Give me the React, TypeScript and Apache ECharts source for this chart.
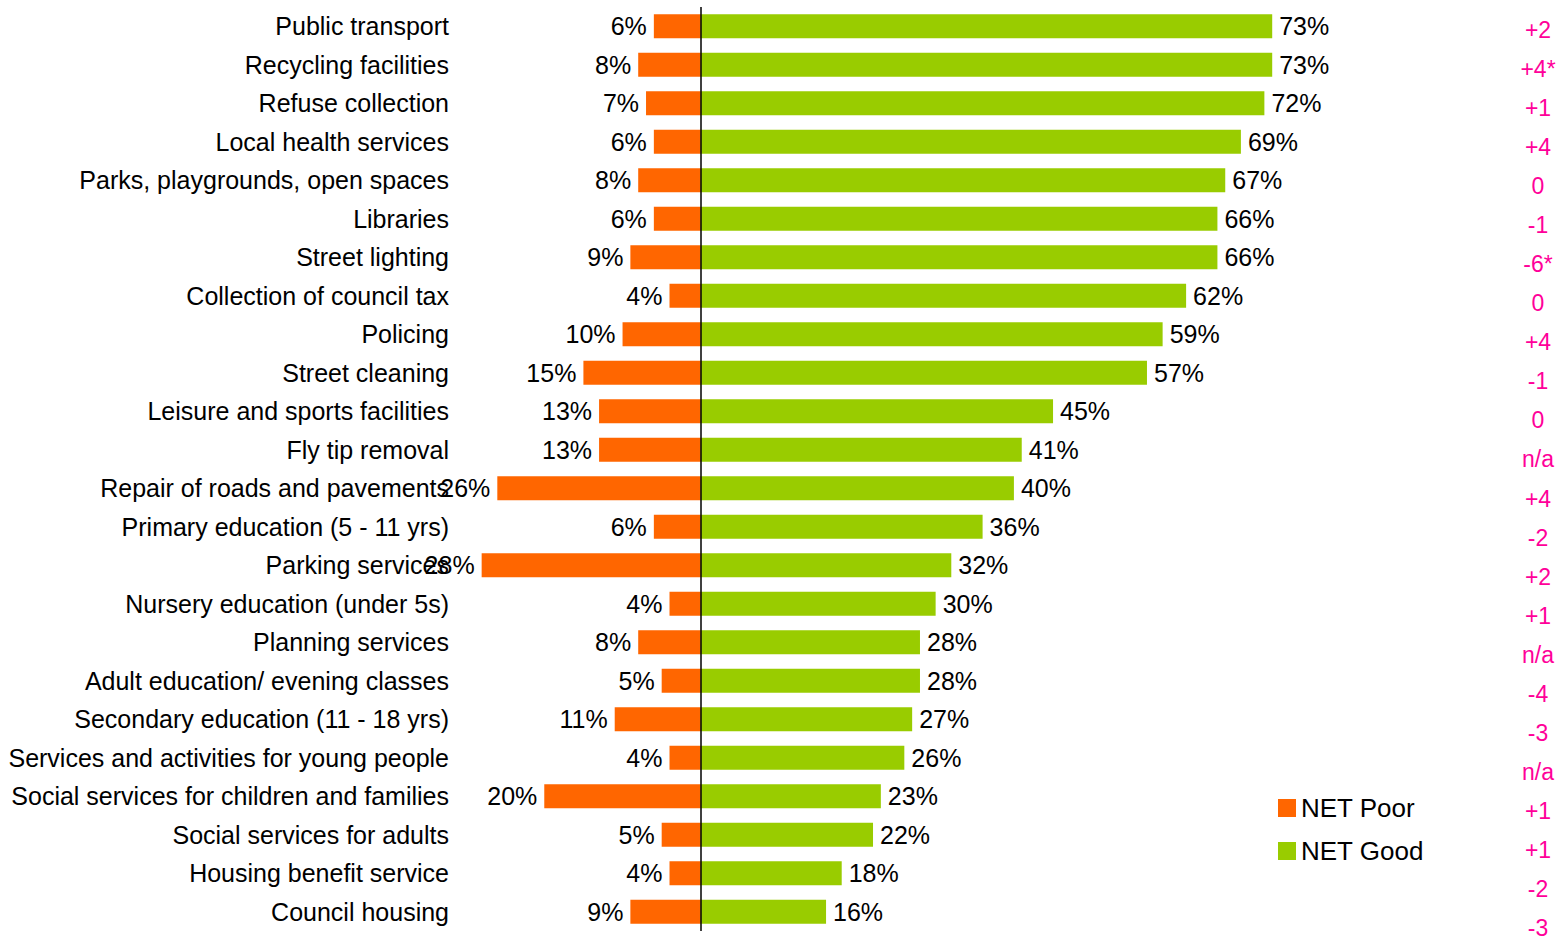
import React, { useEffect, useRef } from "react";
import * as echarts from "echarts";

const categories = [
  "Public transport",
  "Recycling facilities",
  "Refuse collection",
  "Local health services",
  "Parks, playgrounds, open spaces",
  "Libraries",
  "Street lighting",
  "Collection of council tax",
  "Policing",
  "Street cleaning",
  "Leisure and sports facilities",
  "Fly tip removal",
  "Repair of roads and pavements",
  "Primary education (5 - 11 yrs)",
  "Parking services",
  "Nursery education (under 5s)",
  "Planning services",
  "Adult education/ evening classes",
  "Secondary education (11 - 18 yrs)",
  "Services and activities for young people",
  "Social services for children and families",
  "Social services for adults",
  "Housing benefit service",
  "Council housing",
];

const netPoor = [6, 8, 7, 6, 8, 6, 9, 4, 10, 15, 13, 13, 26, 6, 28, 4, 8, 5, 11, 4, 20, 5, 4, 9];
const netGood = [73, 73, 72, 69, 67, 66, 66, 62, 59, 57, 45, 41, 40, 36, 32, 30, 28, 28, 27, 26, 23, 22, 18, 16];
const changes = ["+2", "+4*", "+1", "+4", "0", "-1", "-6*", "0", "+4", "-1", "0", "n/a", "+4", "-2", "+2", "+1", "n/a", "-4", "-3", "n/a", "+1", "+1", "-2", "-3"];

const FONT = "'Liberation Sans', Arial, sans-serif";

export default function App() {
  const ref = useRef<HTMLDivElement>(null);
  useEffect(() => {
    if (!ref.current) return;
    const chart = echarts.init(ref.current, undefined, { renderer: "svg" });
    chart.setOption({
      animation: false,
      backgroundColor: "#ffffff",
      textStyle: { fontFamily: FONT },
      legend: {
        data: ["NET Poor", "NET Good"],
        orient: "vertical",
        left: 1278,
        top: 795,
        padding: 0,
        itemWidth: 18,
        itemHeight: 18,
        itemGap: 17,
        icon: "rect",
        textStyle: { fontSize: 26, color: "#000", fontFamily: FONT, lineHeight: 26 },
      },
      grid: [
        { left: 466, right: 235, top: 7, bottom: 9, containLabel: false },
        { left: 1500, width: 10, top: 30, bottom: 12, containLabel: false },
      ],
      xAxis: [
        { type: "value", gridIndex: 0, min: -30, max: 80, show: false },
        { type: "value", gridIndex: 1, min: 0, max: 1, show: false },
      ],
      yAxis: [
        {
          type: "category",
          gridIndex: 0,
          data: categories,
          inverse: true,
          axisLine: { show: false, onZero: false },
          axisTick: { show: false },
          splitLine: { show: false },
          axisLabel: { fontSize: 25, color: "#000", margin: 17, fontFamily: FONT },
        },
        {
          type: "category",
          gridIndex: 1,
          data: changes,
          inverse: true,
          boundaryGap: false,
          position: "right",
          axisLine: { show: false },
          axisTick: { show: false },
          splitLine: { show: false },
          axisLabel: { fontSize: 23, color: "#FF0099", margin: 28, align: "center", fontFamily: FONT, interval: 0 },
        },
      ],
      series: [
        {
          name: "NET Poor",
          type: "bar",
          stack: "s",
          xAxisIndex: 0,
          yAxisIndex: 0,
          barWidth: 24,
          itemStyle: { color: "#FF6600" },
          data: netPoor.map((v) => -v),
          label: {
            show: true,
            position: "left",
            distance: 7,
            fontSize: 25,
            color: "#000",
            fontFamily: FONT,
            formatter: (p: any) => Math.abs(p.value) + "%",
          },
        },
        {
          name: "NET Good",
          type: "bar",
          stack: "s",
          xAxisIndex: 0,
          yAxisIndex: 0,
          barWidth: 24,
          itemStyle: { color: "#99CC00" },
          data: netGood,
          label: {
            show: true,
            position: "right",
            distance: 7,
            fontSize: 25,
            color: "#000",
            fontFamily: FONT,
            formatter: (p: any) => p.value + "%",
          },
          markLine: {
            silent: true,
            symbol: "none",
            label: { show: false },
            lineStyle: { color: "#000", width: 1.5, type: "solid" },
            data: [{ xAxis: 0 }],
          },
        },
      ],
    });
    return () => chart.dispose();
  }, []);
  return (
    <div
      ref={ref}
      style={{ position: "fixed", left: 0, top: 0, width: 1562, height: 940, background: "#fff" }}
    />
  );
}
